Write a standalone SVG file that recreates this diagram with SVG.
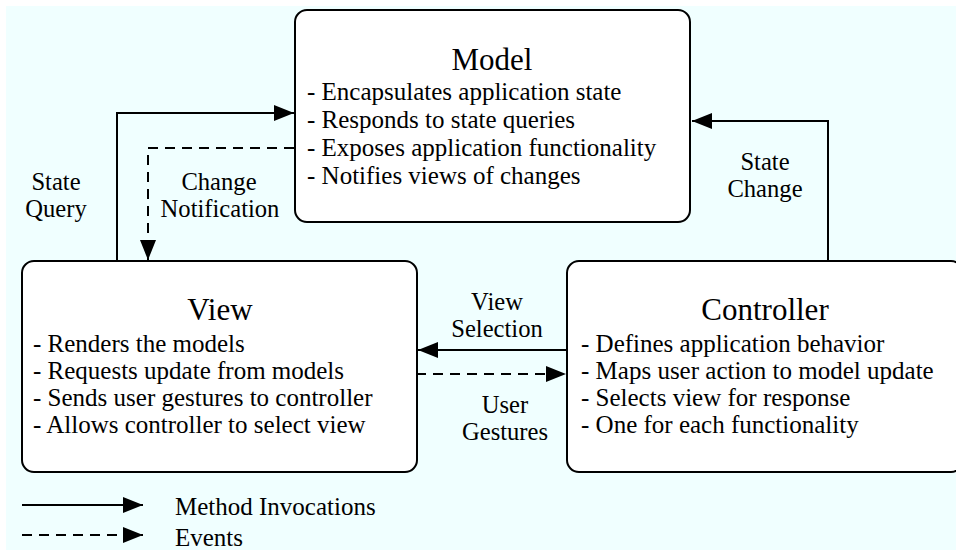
<svg xmlns="http://www.w3.org/2000/svg" width="956" height="551" viewBox="0 0 956 551" font-family="'Liberation Serif', 'Times New Roman', 'DejaVu Serif', serif">
  <style>
    text { font-family: 'Liberation Serif', 'Times New Roman', 'DejaVu Serif', serif; fill: #000; }
    .box { fill: #fff; stroke: #000; stroke-width: 2; }
    .title { font-size: 31px; text-anchor: middle; }
    .item { font-size: 25px; }
    .lbl { font-size: 24.6px; text-anchor: middle; }
    .solid { fill: none; stroke: #000; stroke-width: 2; marker-end: url(#head); }
    .dash { fill: none; stroke: #000; stroke-width: 2; stroke-dasharray: 10 7; marker-end: url(#head); }
  </style>
  <defs>
    <marker id="head" markerUnits="userSpaceOnUse" markerWidth="22" markerHeight="18" refX="20" refY="8" orient="auto">
      <path d="M0,0 L20,8 L0,16 Z" fill="#000"/>
    </marker>
  </defs>

  <!-- backdrop -->
  <rect x="6" y="6" width="952" height="544" fill="#f0ffff"/>

  <!-- connectors -->
  <g id="connectors">
    <path class="solid" d="M117,261 V113 H294"/>
    <path class="dash" d="M294,148 H148 V260"/>
    <path class="solid" d="M828,261 V121 H692"/>
    <path class="solid" d="M567,350 H418"/>
    <path class="dash" d="M416,374 H566"/>
    <text class="lbl" x="56" y="190">State</text>
    <text class="lbl" x="56" y="217">Query</text>
    <text class="lbl" x="219" y="190">Change</text>
    <text class="lbl" x="220" y="217">Notification</text>
    <text class="lbl" x="765" y="170">State</text>
    <text class="lbl" x="765" y="197">Change</text>
    <text class="lbl" x="497" y="310">View</text>
    <text class="lbl" x="497" y="337">Selection</text>
    <text class="lbl" x="505" y="413">User</text>
    <text class="lbl" x="505" y="440">Gestures</text>
  </g>

  <g id="model">
    <rect class="box" x="295" y="10" width="395" height="212" rx="12"/>
    <text class="title" x="492" y="70">Model</text>
    <text class="item" x="307" y="100">- Encapsulates application state</text>
    <text class="item" x="307" y="128">- Responds to state queries</text>
    <text class="item" x="307" y="156">- Exposes application functionality</text>
    <text class="item" x="307" y="184">- Notifies views of changes</text>
  </g>

  <g id="view">
    <rect class="box" x="22" y="261" width="395" height="211" rx="12"/>
    <text class="title" x="220" y="320">View</text>
    <text class="item" x="33" y="352">- Renders the models</text>
    <text class="item" x="33" y="379">- Requests update from models</text>
    <text class="item" x="33" y="406">- Sends user gestures to controller</text>
    <text class="item" x="33" y="433">- Allows controller to select view</text>
  </g>

  <g id="controller">
    <rect class="box" x="567" y="261" width="396" height="211" rx="12"/>
    <text class="title" x="765" y="320">Controller</text>
    <text class="item" x="581" y="352">- Defines application behavior</text>
    <text class="item" x="581" y="379">- Maps user action to model update</text>
    <text class="item" x="581" y="406">- Selects view for response</text>
    <text class="item" x="581" y="433">- One for each functionality</text>
  </g>

  <g id="legend">
    <line class="solid" x1="22" y1="505" x2="143" y2="505"/>
    <line class="dash" x1="22" y1="535" x2="143" y2="535"/>
    <text class="item" x="175" y="515">Method Invocations</text>
    <text class="item" x="175" y="546">Events</text>
  </g>
</svg>
